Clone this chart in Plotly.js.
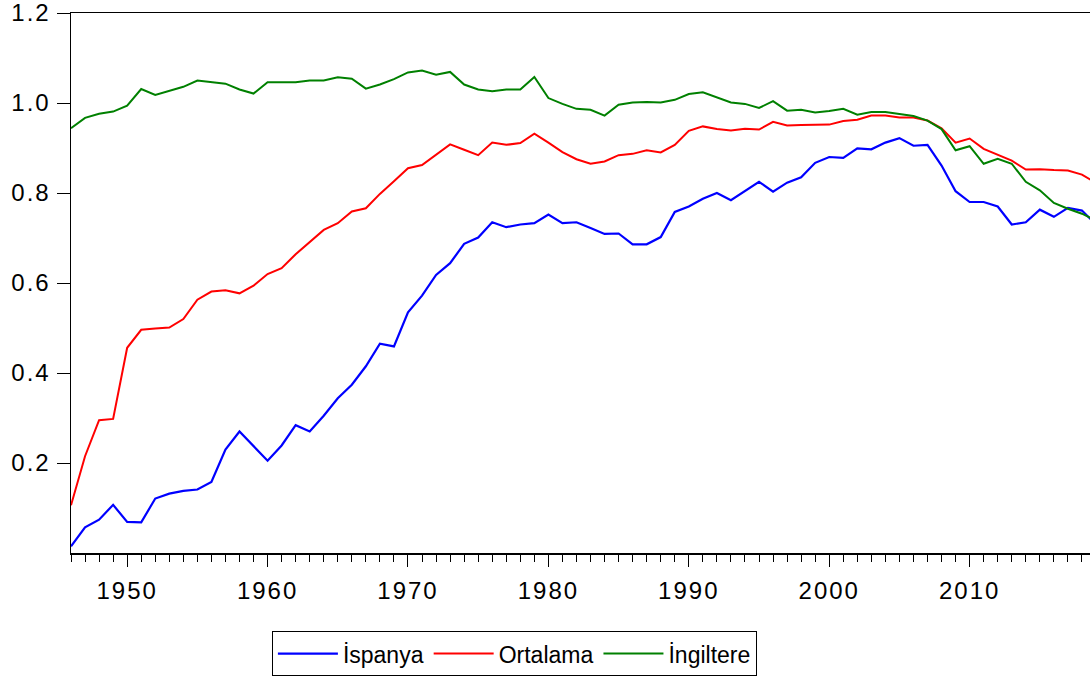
<!DOCTYPE html>
<html>
<head>
<meta charset="utf-8">
<script src="https://cdn.plot.ly/plotly-3.0.1.min.js"></script>
<style>
html, body { margin: 0; padding: 0; overflow: hidden; background: #fff; }
#chart { width: 1100px; height: 678px; }
.xtick text, .ytick text { letter-spacing: 2px; }
</style>
</head>
<body>
<div id="chart"></div>
<script>
const years = [];
for (let y = 1946; y <= 2019; y++) years.push(y);

const ispanya = [
  0.015, 0.057, 0.074, 0.107, 0.069, 0.068, 0.121, 0.132, 0.138, 0.141,
  0.158, 0.230, 0.270, 0.237, 0.205, 0.239, 0.284, 0.270, 0.305, 0.344,
  0.374, 0.415, 0.465, 0.459, 0.535, 0.572, 0.618, 0.644, 0.687, 0.701,
  0.735, 0.724, 0.730, 0.733, 0.752, 0.733, 0.735, 0.722, 0.709, 0.710,
  0.686, 0.686, 0.702, 0.758, 0.770, 0.787, 0.800, 0.784, 0.805, 0.825,
  0.803, 0.823, 0.835, 0.867, 0.880, 0.878, 0.899, 0.897, 0.912, 0.922,
  0.905, 0.907, 0.861, 0.804, 0.780, 0.780, 0.770, 0.730, 0.735, 0.763,
  0.747, 0.767, 0.761, 0.730
];

const ortalama = [
  0.106, 0.215, 0.295, 0.298, 0.456, 0.496, 0.499, 0.501, 0.520, 0.563,
  0.581, 0.584, 0.577, 0.594, 0.620, 0.633, 0.664, 0.692, 0.718, 0.733,
  0.759, 0.766, 0.798, 0.826, 0.855, 0.862, 0.885, 0.908, 0.896, 0.884,
  0.912, 0.907, 0.911, 0.932, 0.912, 0.891, 0.875, 0.865, 0.870, 0.884,
  0.887, 0.895, 0.890, 0.907, 0.938, 0.948, 0.942, 0.939, 0.943, 0.941,
  0.958, 0.950, 0.951, 0.951, 0.952, 0.960, 0.963, 0.972, 0.972, 0.968,
  0.968, 0.961, 0.944, 0.912, 0.921, 0.898, 0.885, 0.872, 0.852, 0.853,
  0.851, 0.850, 0.841, 0.822
];

const ingiltere = [
  0.944, 0.967, 0.976, 0.981, 0.994, 1.031, 1.018, 1.027, 1.036, 1.050,
  1.047, 1.043, 1.030, 1.021, 1.046, 1.046, 1.046, 1.050, 1.050, 1.057,
  1.054, 1.032, 1.041, 1.053, 1.068, 1.072, 1.063, 1.069, 1.041, 1.030,
  1.026, 1.030, 1.030, 1.058, 1.011, 0.998, 0.987, 0.985, 0.972, 0.996,
  1.001, 1.002, 1.001, 1.007, 1.020, 1.024, 1.012, 1.001, 0.998, 0.989,
  1.004, 0.983, 0.985, 0.979, 0.982, 0.987, 0.974, 0.980, 0.980, 0.976,
  0.971, 0.961, 0.942, 0.895, 0.904, 0.865, 0.876, 0.865, 0.825, 0.806,
  0.778, 0.765, 0.754, 0.739
];

const seriesNames = ['İspanya', 'Ortalama', 'İngiltere'];
const yTickVals = [0.2, 0.4, 0.6, 0.8, 1.0, 1.2];
const yTickText = ['0.2', '0.4', '0.6', '0.8', '1.0', '1.2'];

const font = 'Liberation Sans, Arial, sans-serif';

const traces = [
  { x: years, y: ispanya, name: seriesNames[0], type: 'scatter', mode: 'lines',
    line: { color: '#0000FF', width: 2.2 } },
  { x: years, y: ortalama, name: seriesNames[1], type: 'scatter', mode: 'lines',
    line: { color: '#FF0000', width: 2 } },
  { x: years, y: ingiltere, name: seriesNames[2], type: 'scatter', mode: 'lines',
    line: { color: '#008000', width: 2 } }
];

const layout = {
  width: 1100,
  height: 678,
  margin: { l: 71, r: 4, t: 13, b: 125, autoexpand: false },
  paper_bgcolor: '#ffffff',
  plot_bgcolor: '#ffffff',
  font: { family: font, size: 24, color: '#000' },
  showlegend: true,
  legend: {
    orientation: 'h',
    x: 0.196, xanchor: 'left',
    y: -0.228, yanchor: 'bottom',
    bordercolor: '#000', borderwidth: 1,
    font: { family: font, size: 23, color: '#000' },
    itemwidth: 60
  },
  xaxis: {
    range: [1946, 2019],
    showgrid: false, zeroline: false,
    showline: true, linecolor: '#000', linewidth: 1.5, mirror: true,
    ticks: 'outside', ticklen: 12, tickwidth: 1, tickcolor: '#000',
    tick0: 1950, dtick: 10,
    ticklabelstandoff: 4,
    minor: { ticks: 'outside', dtick: 1, ticklen: 7, tickwidth: 1, tickcolor: '#000', showgrid: false },
    tickfont: { family: font, size: 24, color: '#000' }
  },
  yaxis: {
    range: [0, 1.2],
    showgrid: false, zeroline: false,
    showline: true, linecolor: '#000', linewidth: 1.5, mirror: true,
    ticks: 'outside', ticklen: 13, tickwidth: 1, tickcolor: '#000',
    tickvals: yTickVals, ticktext: yTickText,
    ticklabelstandoff: 1,
    ticklabeloverflow: 'allow',
    tickfont: { family: font, size: 24, color: '#000' }
  }
};

Plotly.newPlot('chart', traces, layout, { displayModeBar: false, staticPlot: true });
</script>
</body>
</html>
